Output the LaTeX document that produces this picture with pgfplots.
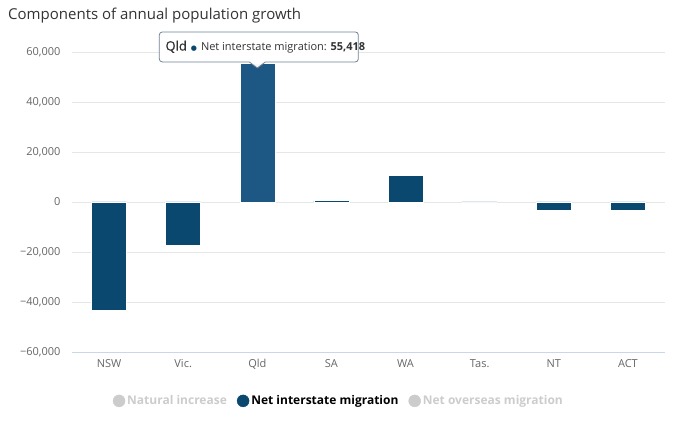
\documentclass[border=0pt]{standalone}
\usepackage{pgfplots}
\pgfplotsset{compat=1.18}
\usepackage{fontspec}
\setmainfont{Open Sans}
\newfontfamily\dejavu{DejaVu Sans}
\definecolor{barblue}{HTML}{0B4870}
\definecolor{hoverblue}{HTML}{1C5883}
\definecolor{gridgray}{HTML}{E6E6E6}
\definecolor{axisline}{HTML}{CCD6EB}
\definecolor{ticktext}{HTML}{666666}
\definecolor{titletext}{HTML}{333333}
\definecolor{hiddengray}{HTML}{CCCCCC}
\definecolor{tipborder}{HTML}{6F8295}

\begin{document}
\begin{tikzpicture}[x=1pt,y=1pt]
\useasboundingbox (0,0) rectangle (692,423);
\node[anchor=west, font=\fontsize{15}{18}\selectfont, text=titletext, inner sep=0] at (8,407) {Components of annual population growth};
\begin{axis}[
  at={(72pt,71pt)}, anchor=south west,
  scale only axis, width=593pt, height=300pt,
  xmin=-0.5, xmax=7.5, ymin=-60000, ymax=60000,
  xtick={0,...,7}, xticklabels={NSW,Vic.,Qld,SA,WA,Tas.,NT,ACT},
  ytick={-60000,-40000,-20000,0,20000,40000,60000},
  yticklabels={{−60,000},{−40,000},{−20,000},{0},{20,000},{40,000},{60,000}},
  scaled y ticks=false,
  major tick length=0pt,
  ymajorgrids, grid style={gridgray, line width=0.8pt},
  axis line style={draw=none},
  xticklabel style={font=\fontsize{11}{13}\selectfont, text=ticktext, yshift=-4pt},
  yticklabel style={font=\fontsize{11}{13}\selectfont, text=ticktext, xshift=-8pt},
  ybar, bar width=35pt,
  clip=false,
  legend style={at={(0.45,-0.163)}, anchor=center, draw=none, fill=none,
    legend columns=3, font=\bfseries\fontsize{12}{14}\selectfont,
    /tikz/every odd column/.append style={column sep=0pt},
    /tikz/every even column/.append style={column sep=8pt}},
  legend cell align=left,
]
\draw[axisline, line width=1pt] (rel axis cs:0,0) -- (rel axis cs:1,0);
\addplot[fill=barblue, draw=white, line width=0.6pt, bar shift=0pt, forget plot]
  coordinates {(0,-43200) (1,-17200) (3,500) (4,10500) (5,0) (6,-3200) (7,-3400)};
\addplot[fill=hoverblue, draw=white, line width=0.6pt, bar shift=0pt, forget plot]
  coordinates {(2,55418)};
\coordinate (qtop) at (axis cs:2,55418);
\addlegendimage{legend image code/.code={\fill[hiddengray] (6pt,0pt) circle (6pt);}}
\addlegendentry{\textcolor{hiddengray}{Natural increase}}
\addlegendimage{legend image code/.code={\fill[barblue] (6pt,0pt) circle (6pt);}}
\addlegendentry{\textcolor{black}{Net interstate migration}}
\addlegendimage{legend image code/.code={\fill[hiddengray] (6pt,0pt) circle (6pt);}}
\addlegendentry{\textcolor{hiddengray}{Net overseas migration}}
\end{axis}
\begin{scope}[shift={(qtop)}]
  \filldraw[fill=white, fill opacity=0.96, draw=tipborder, line width=0.8pt]
    (-8,1.5) -- (0,-4.5) -- (8,1.5) [rounded corners=3pt] -- (101,1.5) -- (101,31.5) -- (-98,31.5) -- (-98,1.5) [sharp corners] -- cycle;
  \node[anchor=west, inner sep=0, text=titletext] at (-92,16.5)
    {{\fontsize{13}{15}\selectfont\addfontfeature{FakeBold=0.5}Qld}\hspace{4pt}{\dejavu\fontsize{7}{8}\selectfont\textcolor{barblue}{●}}\hspace{4pt}{\fontsize{11}{13}\selectfont Net interstate migration: \textbf{55,418}}};
\end{scope}
\end{tikzpicture}
\end{document}
